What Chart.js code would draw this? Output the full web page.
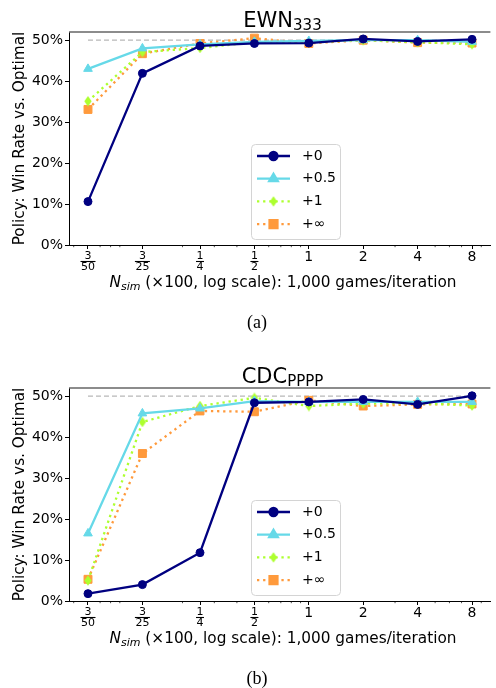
<!DOCTYPE html>
<html><head><meta charset="utf-8">
<script src="https://cdn.jsdelivr.net/npm/chart.js@4.4.1/dist/chart.umd.min.js"></script>
<style>
html,body{margin:0;padding:0;background:#fff;width:496px;height:688px;overflow:hidden;position:relative;}
canvas{position:absolute;left:0;display:block;}
#c1{top:0}
#c2{top:356px}
</style></head><body>
<canvas id="c1" width="497" height="356"></canvas>
<canvas id="c2" width="497" height="356"></canvas>
<script>
// ---- data ----
const xValues = [0.06, 0.12, 0.25, 0.5, 1, 2, 4, 8];
const xTickLabels = [['3','50'], ['3','25'], ['1','4'], ['1','2'], '1', '2', '4', '8'];
const xMinorTicks = [0.05, 0.07, 0.08, 0.09, 0.2, 0.3, 0.4, 0.6, 0.7, 0.8, 0.9, 3, 5, 6, 7, 9];
const yTicks = [0, 10, 20, 30, 40, 50];
const seriesLabels = ['+0', '+0.5', '+1', '+\u221e'];
const optimalX = [0.06, 8];
const optimalY = [50, 50];

const ewn_p0   = [10.6, 41.9, 48.6, 49.2, 49.3, 50.3, 49.7, 50.2];
const ewn_p05  = [43.0, 48.0, 49.0, 49.6, 49.8, 50.0, 50.0, 49.6];
const ewn_p1   = [35.1, 47.1, 48.1, 49.5, 49.5, 50.0, 49.5, 49.0];
const ewn_pinf = [33.1, 46.7, 49.2, 50.5, 49.2, 50.0, 49.4, 49.3];

const cdc_p0   = [1.8, 4.0, 11.8, 48.4, 48.6, 49.2, 48.0, 50.1];
const cdc_p05  = [16.5, 45.8, 47.0, 48.8, 48.6, 48.6, 48.6, 48.6];
const cdc_p1   = [5.0, 43.7, 47.6, 49.6, 47.6, 48.2, 48.3, 47.7];
const cdc_pinf = [5.3, 36.0, 46.4, 46.2, 49.0, 47.6, 48.0, 48.1];

// ---- styles ----
const FONT = 'DejaVu Sans';
const colors = ['#000080', '#66d9e8', '#adff2f', '#ff9a3c'];

function makeDiamond(color) {
  const c = document.createElement('canvas');
  c.width = 8; c.height = 11;
  const g = c.getContext('2d');
  g.fillStyle = color;
  g.beginPath();
  g.moveTo(4, 0.3); g.lineTo(7.7, 5.5); g.lineTo(4, 10.7); g.lineTo(0.3, 5.5);
  g.closePath(); g.fill();
  return c;
}
const diamond = makeDiamond(colors[2]);

function drawRuns(ctx, runs, cx, baseY) {
  let total = 0;
  runs.forEach(r => { ctx.font = r.font; r.w = ctx.measureText(r.t).width; total += r.w; });
  let x = cx - total / 2;
  ctx.textBaseline = 'alphabetic';
  ctx.textAlign = 'left';
  ctx.fillStyle = '#000';
  runs.forEach(r => { ctx.font = r.font; ctx.fillText(r.t, x, baseY + (r.dy || 0)); x += r.w; });
}

function makeChart(id, titleMain, titleSub, caption, s0, s05, s1, sinf) {
  const pts = arr => xValues.map((x, i) => ({x: x, y: arr[i]}));
  const datasets = [
    {label: seriesLabels[0], data: pts(s0), borderColor: colors[0], backgroundColor: colors[0],
     borderWidth: 2.3, pointStyle: 'circle', pointRadius: 4, pointBorderWidth: 1, pointBorderColor: colors[0]},
    {label: seriesLabels[1], data: pts(s05), borderColor: colors[1], backgroundColor: colors[1],
     borderWidth: 2.3, pointStyle: 'triangle', pointRadius: 5, pointBorderWidth: 1, pointBorderColor: colors[1]},
    {label: seriesLabels[2], data: pts(s1), borderColor: colors[2], backgroundColor: colors[2],
     borderWidth: 2.3, borderDash: [2.3, 3.8], borderCapStyle: 'butt', pointStyle: diamond, pointRadius: 4},
    {label: seriesLabels[3], data: pts(sinf), borderColor: colors[3], backgroundColor: colors[3],
     borderWidth: 2.3, borderDash: [2.3, 3.8], borderCapStyle: 'butt', pointStyle: 'rect', pointRadius: 5.6,
     pointBorderWidth: 1, pointBorderColor: colors[3]},
    {label: 'optimal', data: optimalX.map((x, i) => ({x: x, y: optimalY[i]})), borderColor: '#b8b8b8',
     borderWidth: 1.3, borderDash: [5, 3], pointRadius: 0, legendHide: true}
  ];

  const decor = {
    id: 'decor',
    afterDraw(chart) {
      const ctx = chart.ctx, a = chart.chartArea, xs = chart.scales.x;
      ctx.save();
      // top spine
      ctx.strokeStyle = '#666'; ctx.lineWidth = 1.6;
      ctx.beginPath(); ctx.moveTo(a.left, a.top); ctx.lineTo(a.right, a.top); ctx.stroke();
      // minor ticks
      ctx.strokeStyle = '#000'; ctx.lineWidth = 0.7;
      xMinorTicks.forEach(v => {
        const px = xs.getPixelForValue(v);
        if (px < a.left || px > a.right) return;
        ctx.beginPath(); ctx.moveTo(px, a.bottom); ctx.lineTo(px, a.bottom + 2.2); ctx.stroke();
      });
      // fraction bars
      ctx.font = '11px ' + FONT;
      ctx.lineWidth = 1.1;
      xTickLabels.forEach((lab, i) => {
        if (!Array.isArray(lab)) return;
        const px = xs.getPixelForValue(xValues[i]);
        const w = ctx.measureText(lab[1]).width + 1;
        const y = a.bottom + 16.5;
        ctx.beginPath(); ctx.moveTo(px - w / 2, y); ctx.lineTo(px + w / 2, y); ctx.stroke();
      });
      // legend
      const lx = 251.5, ly = a.top + 112.5, lw = 89, lh = 95;
      ctx.fillStyle = 'rgba(255,255,255,0.85)';
      ctx.strokeStyle = '#d4d4d4'; ctx.lineWidth = 1;
      ctx.beginPath(); ctx.roundRect(lx, ly, lw, lh, 4); ctx.fill(); ctx.stroke();
      chart.data.datasets.forEach((ds, i) => {
        if (ds.legendHide) return;
        const y = a.top + 124 + i * 22.7;
        ctx.strokeStyle = ds.borderColor; ctx.lineWidth = ds.borderWidth;
        ctx.setLineDash(ds.borderDash || []); ctx.lineCap = 'butt';
        ctx.beginPath(); ctx.moveTo(257, y); ctx.lineTo(290, y); ctx.stroke();
        ctx.setLineDash([]);
        ctx.fillStyle = ds.backgroundColor; ctx.strokeStyle = ds.borderColor;
        Chart.helpers.drawPoint(ctx, {pointStyle: ds.pointStyle, radius: ds.pointRadius,
          borderWidth: ds.pointBorderWidth || 0, rotation: 0}, 273.5, y);
        ctx.fillStyle = '#000'; ctx.font = '14px ' + FONT;
        ctx.textBaseline = 'middle'; ctx.textAlign = 'left';
        ctx.fillText(ds.label, 302, y);
      });
      // title
      drawRuns(ctx, [{t: titleMain, font: '21px ' + FONT}, {t: titleSub, font: '15px ' + FONT, dy: 3}], 282.5, 27);
      // x-axis title
      drawRuns(ctx, [{t: 'N', font: 'italic 15.3px ' + FONT}, {t: 'sim', font: 'italic 11px ' + FONT, dy: 3},
        {t: ' (\u00d7100, log scale): 1,000 games/iteration', font: '15.3px ' + FONT}], 283, a.bottom + 42);
      // caption
      drawRuns(ctx, [{t: caption, font: '18px "Liberation Serif"'}], 257, a.bottom + 83);
      ctx.restore();
    }
  };

  return new Chart(document.getElementById(id), {
    type: 'line',
    data: {datasets: datasets},
    plugins: [decor],
    options: {
      responsive: false, animation: false, devicePixelRatio: 1,
      layout: {padding: {top: 32, left: 0, right: 0, bottom: 0}},
      plugins: {legend: {display: false}, tooltip: {enabled: false}, title: {display: false}},
      elements: {line: {tension: 0}},
      scales: {
        x: {
          type: 'logarithmic', min: 0.0471, max: 10.11,
          afterBuildTicks: s => { s.ticks = xValues.map(v => ({value: v})); },
          afterFit: s => { s.height = 111; },
          grid: {display: true, drawOnChartArea: false, drawTicks: true, tickLength: 4, tickColor: '#000', tickWidth: 1},
          border: {display: true, color: '#000', width: 1},
          ticks: {
            autoSkip: false, maxRotation: 0, minRotation: 0, padding: 1.5, color: '#000',
            font: c => Array.isArray(xTickLabels[c.index]) ? {family: FONT, size: 11, lineHeight: 1.0} : {family: FONT, size: 14, lineHeight: 1.0},
            callback: (v, i) => xTickLabels[i]
          }
        },
        y: {
          type: 'linear', min: 0, max: 52,
          afterBuildTicks: s => { s.ticks = yTicks.map(v => ({value: v})); },
          afterFit: s => { s.width = 69; },
          grid: {display: true, drawOnChartArea: false, drawTicks: true, tickLength: 4, tickColor: '#000', tickWidth: 1},
          border: {display: true, color: '#000', width: 1},
          ticks: {padding: 2, color: '#000', font: {family: FONT, size: 14}, callback: v => v + '%'},
          title: {display: true, text: 'Policy: Win Rate vs. Optimal', color: '#000',
                  font: {family: FONT, size: 15.3}, padding: {top: 10.6, bottom: 0}}
        }
      }
    }
  });
}

Chart.defaults.font.family = FONT;
makeChart('c1', 'EWN', '333', '(a)', ewn_p0, ewn_p05, ewn_p1, ewn_pinf);
makeChart('c2', 'CDC', 'PPPP', '(b)', cdc_p0, cdc_p05, cdc_p1, cdc_pinf);
</script>
</body></html>
